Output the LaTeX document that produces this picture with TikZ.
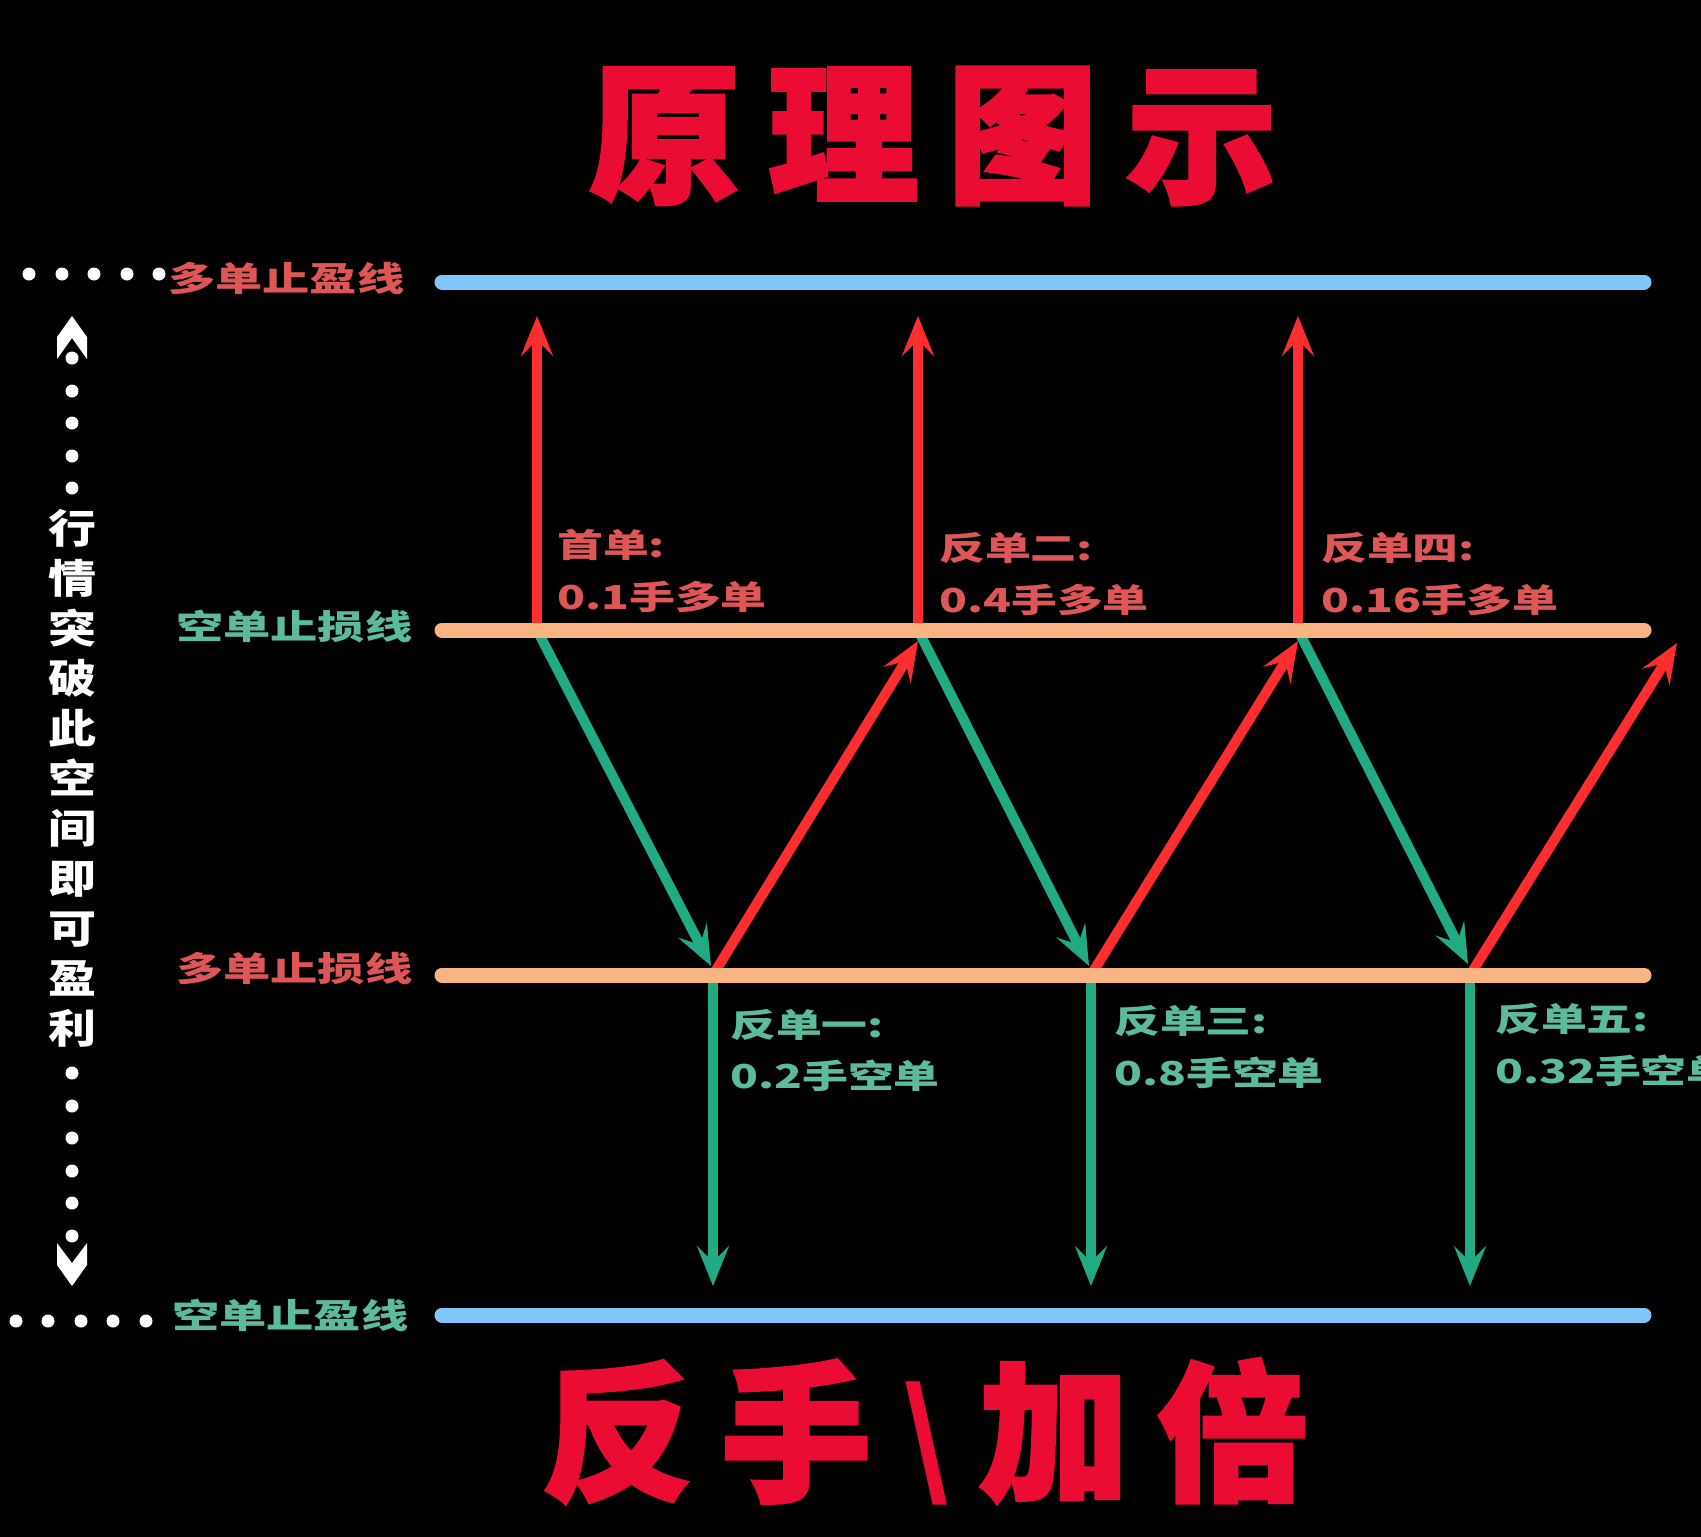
\documentclass[tikz,border=0pt]{standalone}
\usepackage{fontspec}
\usetikzlibrary{arrows.meta}
\newfontfamily\cjk{Noto Sans CJK SC}
\newfontfamily\cjkwide{Noto Sans CJK SC}[FakeStretch=1.39]
\newfontfamily\cjkvert{Noto Sans CJK SC}[FakeStretch=1.2]
\newfontfamily\cjktitle{Noto Sans CJK SC}[FakeBold=2.5]
\definecolor{titlered}{HTML}{EB0C34}
\definecolor{labred}{HTML}{DE5656}
\definecolor{labgreen}{HTML}{5CBB9B}
\definecolor{arrred}{HTML}{FF2E2E}
\definecolor{arrgreen}{HTML}{22AB82}
\definecolor{lineblue}{HTML}{80C6F9}
\definecolor{lineorange}{HTML}{F8B482}
\tikzset{
  headtip/.tip={Stealth[length=40pt,width=32pt,inset=16pt]},
  redarrow/.style={draw=arrred, line width=10pt, -headtip},
  greenarrow/.style={draw=arrgreen, line width=10pt, -headtip},
  levelline/.style={line width=15pt, line cap=round},
  sidelabel/.style={anchor=west, inner sep=0pt, font=\cjkwide\bfseries\fontsize{34}{40}\selectfont},
  orderlabel/.style={anchor=west, inner sep=0pt, font=\cjkwide\bfseries\fontsize{33}{40}\selectfont},
  whitedot/.style={fill=white, draw=none},
  bigtitle/.style={inner sep=0pt, text=titlered, font=\cjktitle\bfseries\fontsize{150}{160}\selectfont}
}
\begin{document}
\begin{tikzpicture}[x=1pt,y=-1pt]
\useasboundingbox (0,0) rectangle (1701,1537);
\fill[black] (0,0) rectangle (1701,1537);
\clip (0,0) rectangle (1701,1537);

% titles
\node[bigtitle] (title) at (933,136) {原\hspace{29pt}理\hspace{29pt}图\hspace{29pt}示};
\node[bigtitle] (subtitle) at (925,1432) {反\hspace{29pt}手\hspace{30pt}\raisebox{6pt}{\cjk\bfseries\fontsize{124}{130}\selectfont\textbackslash}\hspace{30pt}加\hspace{29pt}倍};

% coordinates of the levels
\coordinate (L1a) at (442,282); \coordinate (L1b) at (1644,282);
\coordinate (L2a) at (442,630); \coordinate (L2b) at (1644,630);
\coordinate (L3a) at (442,975); \coordinate (L3b) at (1644,975);
\coordinate (L4a) at (442,1315); \coordinate (L4b) at (1644,1315);

% turning points
\coordinate (P0) at (537,630); \coordinate (P1) at (918,630); \coordinate (P2) at (1298,630);
\coordinate (Q1) at (713,975); \coordinate (Q2) at (1091,975); \coordinate (Q3) at (1470,975);
\coordinate (T0) at (537,316); \coordinate (T1) at (918,316); \coordinate (T2) at (1298,316);
\coordinate (B1) at (713,1286); \coordinate (B2) at (1091,1286); \coordinate (B3) at (1470,1286);
\coordinate (GT1) at (711,966); \coordinate (GT2) at (1089,966); \coordinate (GT3) at (1468,964);
\coordinate (RT1) at (918,641); \coordinate (RT2) at (1298,641); \coordinate (RT3) at (1677,643);

% arrows
\draw[redarrow] (P0) -- (T0);
\draw[redarrow] (P1) -- (T1);
\draw[redarrow] (P2) -- (T2);
\draw[greenarrow] (Q1) -- (B1);
\draw[greenarrow] (Q2) -- (B2);
\draw[greenarrow] (Q3) -- (B3);
\draw[greenarrow] (P0) -- (GT1);
\draw[greenarrow] (P1) -- (GT2);
\draw[greenarrow] (P2) -- (GT3);
\draw[redarrow] (Q1) -- (RT1);
\draw[redarrow] (Q2) -- (RT2);
\draw[redarrow] (Q3) -- (RT3);

% level lines
\draw[levelline, lineblue] (L1a) -- (L1b);
\draw[levelline, lineorange] (L2a) -- (L2b);
\draw[levelline, lineorange] (L3a) -- (L3b);
\draw[levelline, lineblue] (L4a) -- (L4b);

% side labels
\node[sidelabel, text=labred] (lab1) at (168,279) {多单止盈线};
\node[sidelabel, text=labgreen] (lab2) at (176,626) {空单止损线};
\node[sidelabel, text=labred] (lab3) at (176,969) {多单止损线};
\node[sidelabel, text=labgreen] (lab4) at (172,1315) {空单止盈线};

% order labels
\node[orderlabel, text=labred] (o1a) at (557,545) {首单:};
\node[orderlabel, text=labred] (o1b) at (557,597) {0.1手多单};
\node[orderlabel, text=labred] (o3a) at (939,548) {反单二:};
\node[orderlabel, text=labred] (o3b) at (939,600) {0.4手多单};
\node[orderlabel, text=labred] (o5a) at (1321,548) {反单四:};
\node[orderlabel, text=labred] (o5b) at (1321,600) {0.16手多单};
\node[orderlabel, text=labgreen] (o2a) at (730,1025) {反单一:};
\node[orderlabel, text=labgreen] (o2b) at (730,1076) {0.2手空单};
\node[orderlabel, text=labgreen] (o4a) at (1114,1021) {反单三:};
\node[orderlabel, text=labgreen] (o4b) at (1114,1073) {0.8手空单};
\node[orderlabel, text=labgreen] (o6a) at (1495,1019) {反单五:};
\node[orderlabel, text=labgreen] (o6b) at (1495,1071) {0.32手空单};

% dotted guides
\foreach \x in {29,62,94,127,159} \fill[whitedot] (\x,274) circle (6.5);
\foreach \x in {16,48,81,113,146} \fill[whitedot] (\x,1321) circle (6.5);
\foreach \y in {358,391,423,456,488} \fill[whitedot] (72,\y) circle (6.5);
\foreach \y in {1073,1106,1138,1171,1203,1236} \fill[whitedot] (72,\y) circle (6.5);
\fill[white] (72,316) -- (87,337) -- (87,359) -- (72,338) -- (57,359) -- (57,337) -- cycle;
\fill[white] (72,1286) -- (87,1265) -- (87,1243) -- (72,1263) -- (57,1243) -- (57,1265) -- cycle;

% vertical text
\node[anchor=north, inner sep=0pt, align=center, text=white,
      font=\cjkvert\bfseries\fontsize{40}{50}\selectfont] (vtext) at (72,509)
  {行\\情\\突\\破\\此\\空\\间\\即\\可\\盈\\利};
\end{tikzpicture}
\end{document}
